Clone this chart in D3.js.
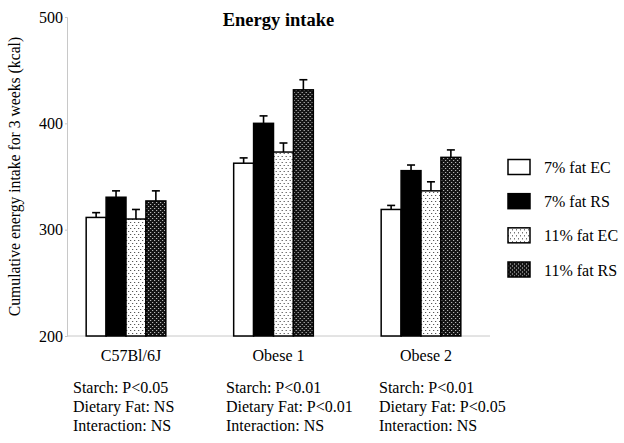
<!DOCTYPE html>
<html>
<head>
<meta charset="utf-8">
<script src="https://cdn.jsdelivr.net/npm/d3@7"></script>
<style>
  html, body { margin: 0; padding: 0; background: #fff; }
  svg { display: block; font-family: "Liberation Serif", "Times New Roman", serif; }
</style>
</head>
<body>
<svg id="chart" width="624" height="443"></svg>
<script>
// ---- data ----
const categories = ["C57Bl/6J", "Obese 1", "Obese 2"];
const seriesNames = ["7% fat EC", "7% fat RS", "11% fat EC", "11% fat RS"];
const ec7Mean = [311.5, 362.5, 319];
const ec7Sem  = [4.5, 5, 3.8];
const rs7Mean = [330.5, 400, 355.5];
const rs7Sem  = [6, 7, 5.3];
const ec11Mean = [310, 373, 336.5];
const ec11Sem  = [9, 8.5, 8.5];
const rs11Mean = [327, 431.5, 368];
const rs11Sem  = [9.5, 9.5, 7];
const yTicks = [200, 300, 400, 500];
const statsLines = [
  ["Starch: P<0.05", "Dietary Fat: NS", "Interaction: NS"],
  ["Starch: P<0.01", "Dietary Fat: P<0.01", "Interaction: NS"],
  ["Starch: P<0.01", "Dietary Fat: P<0.05", "Interaction: NS"]
];
const titleText = "Energy intake";
const yTitle = "Cumulative energy intake for 3 weeks (kcal)";

const means = [ec7Mean, rs7Mean, ec11Mean, rs11Mean];
const sems = [ec7Sem, rs7Sem, ec11Sem, rs11Sem];
const fills = ["#ffffff", "#000000", "url(#dotsLight)", "url(#dotsDark)"];
const FONT = "Liberation Serif, Times New Roman, serif";

const svg = d3.select("#chart");

// patterns
const defs = svg.append("defs");
const pL = defs.append("pattern").attr("id", "dotsLight").attr("patternUnits", "userSpaceOnUse")
  .attr("width", 4).attr("height", 6);
pL.append("rect").attr("width", 4).attr("height", 6).attr("fill", "#fff");
pL.append("rect").attr("x", 0).attr("y", 0).attr("width", 1).attr("height", 1).attr("fill", "#333");
pL.append("rect").attr("x", 2).attr("y", 3).attr("width", 1).attr("height", 1).attr("fill", "#333");
const pD = defs.append("pattern").attr("id", "dotsDark").attr("patternUnits", "userSpaceOnUse")
  .attr("width", 4).attr("height", 4);
pD.append("rect").attr("width", 4).attr("height", 4).attr("fill", "#141414");
pD.append("rect").attr("x", 0).attr("y", 0).attr("width", 1).attr("height", 1).attr("fill", "#d8d8d8");
pD.append("rect").attr("x", 2).attr("y", 2).attr("width", 1).attr("height", 1).attr("fill", "#d8d8d8");

// scales
const y = d3.scaleLinear().domain([200, 500]).range([336, 17]);
const x0 = d3.scaleBand().domain(categories).range([52.25, 494.75])
  .paddingInner(0.46).paddingOuter(0.23);
const x1 = d3.scaleBand().domain(seriesNames).range([0, x0.bandwidth()]).padding(0);
const axisX = 67;
const axisXEnd = 490;

// y axis
const yAxis = d3.axisLeft(y).tickValues(yTicks).tickSize(2).tickPadding(2).tickFormat(d3.format("d"));
const gy = svg.append("g").attr("transform", `translate(${axisX},0)`).call(yAxis)
  .attr("font-family", FONT);
gy.select(".domain").attr("stroke", "#c8c8c8").attr("stroke-width", 1);
gy.selectAll(".tick line").attr("stroke", "#c8c8c8");
gy.selectAll(".tick text").attr("font-size", "16px").attr("fill", "#000").attr("font-family", FONT);

// x axis baseline
svg.append("line").attr("x1", axisX).attr("x2", axisXEnd)
  .attr("y1", y(200)).attr("y2", y(200)).attr("stroke", "#c8c8c8").attr("stroke-width", 1);

// bars
const groups = svg.append("g").selectAll("g").data(categories).join("g")
  .attr("transform", d => `translate(${x0(d)},0)`);
seriesNames.forEach((s, si) => {
  groups.append("rect")
    .attr("x", x1(s))
    .attr("width", x1.bandwidth())
    .attr("y", (d, ci) => y(means[si][ci]))
    .attr("height", (d, ci) => y(200) - y(means[si][ci]))
    .attr("fill", fills[si])
    .attr("stroke", "#000").attr("stroke-width", 1.5);
  // error bars (upper only)
  groups.append("line")
    .attr("x1", x1(s) + x1.bandwidth() / 2).attr("x2", x1(s) + x1.bandwidth() / 2)
    .attr("y1", (d, ci) => y(means[si][ci]))
    .attr("y2", (d, ci) => y(means[si][ci] + sems[si][ci]))
    .attr("stroke", "#000").attr("stroke-width", 1.6);
  groups.append("line")
    .attr("x1", x1(s) + x1.bandwidth() / 2 - 4).attr("x2", x1(s) + x1.bandwidth() / 2 + 4)
    .attr("y1", (d, ci) => y(means[si][ci] + sems[si][ci]))
    .attr("y2", (d, ci) => y(means[si][ci] + sems[si][ci]))
    .attr("stroke", "#000").attr("stroke-width", 1.6);
});

// category labels
svg.append("g").selectAll("text").data(categories).join("text")
  .attr("x", d => x0(d) + x0.bandwidth() / 2 + 5)
  .attr("y", 361)
  .attr("text-anchor", "middle")
  .attr("font-size", "16px")
  .text(d => d);

// stats text
const sx = d3.scaleLinear().domain([0, 2]).range([73, 379]);
statsLines.forEach((lines, ci) => {
  svg.append("g").selectAll("text").data(lines).join("text")
    .attr("x", sx(ci))
    .attr("y", (d, li) => 393 + li * 19)
    .attr("font-size", "16px")
    .text(d => d);
});

// title
svg.append("text").attr("x", 278.5).attr("y", 26)
  .attr("text-anchor", "middle").attr("font-weight", "bold").attr("font-size", "18.5px")
  .text(titleText);

// y title
svg.append("text")
  .attr("transform", "translate(19.5,176.5) rotate(-90)")
  .attr("text-anchor", "middle").attr("font-size", "15.7px")
  .text(yTitle);

// legend
const ly = d3.scalePoint().domain(seriesNames).range([167, 269.5]);
const leg = svg.append("g").selectAll("g").data(seriesNames).join("g")
  .attr("transform", d => `translate(0,${ly(d)})`);
leg.append("rect").attr("x", 508).attr("y", -7.5).attr("width", 22).attr("height", 15)
  .attr("fill", (d, i) => fills[i]).attr("stroke", "#000").attr("stroke-width", 1.5);
leg.append("text").attr("x", 544).attr("y", 6).attr("font-size", "16px").text(d => d);
</script>
</body>
</html>
